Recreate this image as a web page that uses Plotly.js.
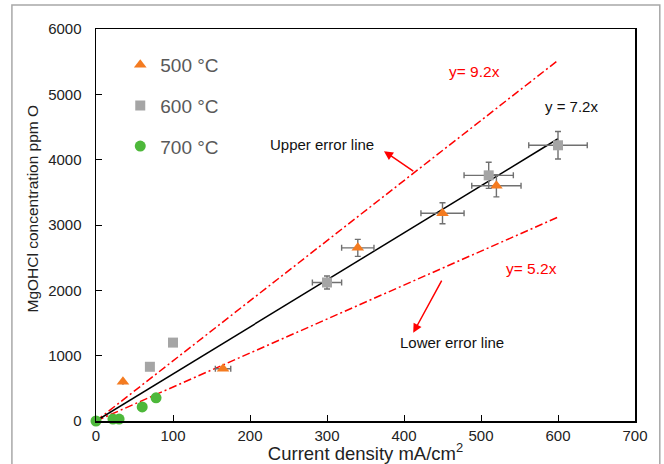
<!DOCTYPE html>
<html>
<head>
<meta charset="utf-8">
<script src="https://cdn.plot.ly/plotly-3.0.1.min.js"></script>
<style>html,body{margin:0;padding:0;background:#fff;}#chart{width:664px;height:464px;}</style>
</head>
<body>
<div id="chart"></div>
<script>
// 500 °C series
const x500 = [35, 165, 340, 450, 520];
const y500 = [600, 800, 2650, 3180, 3600];
const xErr500 = [null, 10, 21, 28, 32];
const yErr500 = [null, null, 130, 160, 170];
// 600 °C series
const x600 = [70, 100, 300, 510, 600];
const y600 = [830, 1200, 2120, 3760, 4220];
const xErr600 = [null, null, 19, 32, 38];
const yErr600 = [null, null, 100, 200, 210];
// 700 °C series
const x700 = [0, 22, 30, 60, 78];
const y700 = [0, 30, 30, 215, 355];
// fit and error lines (endpoints)
const lineX = [0, 600];
const fitY = [0, 4320];     // y = 7.2x
const upperY = [0, 5520];   // y = 9.2x
const lowerY = [0, 3120];   // y = 5.2x
const seriesNames = ['500 °C', '600 °C', '700 °C'];
const xTicks = [0, 100, 200, 300, 400, 500, 600, 700];
const yTicks = [0, 1000, 2000, 3000, 4000, 5000, 6000];

const errStyle = {color: '#707070', thickness: 1.4, width: 3};
const font = 'Liberation Sans, Arial, sans-serif';

const traces = [
  {x: lineX, y: upperY, mode: 'lines', line: {color: '#FF0000', width: 1.5, dash: '8px,3px,2px,3px'}, showlegend: false, hoverinfo: 'skip'},
  {x: lineX, y: lowerY, mode: 'lines', line: {color: '#FF0000', width: 1.5, dash: '8px,3px,2px,3px'}, showlegend: false, hoverinfo: 'skip'},
  {x: lineX, y: fitY, mode: 'lines', line: {color: '#000000', width: 1.5}, showlegend: false, hoverinfo: 'skip'},
  {x: x500, y: y500, name: seriesNames[0], legendgroup: 'a', mode: 'markers', cliponaxis: false,
   marker: {symbol: 'triangle-up', size: 11, color: '#F47B20'},
   error_x: Object.assign({type: 'data', array: xErr500}, errStyle),
   error_y: Object.assign({type: 'data', array: yErr500}, errStyle)},
  {x: x600, y: y600, name: seriesNames[1], legendgroup: 'b', mode: 'markers', cliponaxis: false,
   marker: {symbol: 'square', size: 10, color: '#A5A5A5'},
   error_x: Object.assign({type: 'data', array: xErr600}, errStyle),
   error_y: Object.assign({type: 'data', array: yErr600}, errStyle)},
  {x: x700, y: y700, name: seriesNames[2], legendgroup: 'c', mode: 'markers', cliponaxis: false,
   marker: {symbol: 'circle', size: 11, color: '#4DB83A'}}
];

const layout = {
  width: 664, height: 464,
  margin: {l: 96, r: 29, t: 29, b: 43},
  paper_bgcolor: '#fff', plot_bgcolor: '#fff',
  font: {family: font, color: '#222'},
  showlegend: true,
  legend: {x: 0.045, y: 0.957, xanchor: 'left', yanchor: 'top', bgcolor: 'rgba(0,0,0,0)',
           font: {size: 19, color: '#595959', family: font}, tracegroupgap: 13, traceorder: 'grouped',
           itemwidth: 30},
  xaxis: {range: [0, 700], tickvals: xTicks, ticks: 'inside', ticklen: 6, tickcolor: '#000',
          showline: true, linecolor: '#000', linewidth: 1.5, mirror: true, showgrid: false, zeroline: false,
          tickfont: {size: 15, color: '#222'},
          title: {text: 'Current density mA/cm<sup>2</sup>', font: {size: 18.5, color: '#222'}, standoff: 0}},
  yaxis: {range: [0, 6000], tickvals: yTicks, ticks: 'inside', ticklen: 6, tickcolor: '#000',
          showline: true, linecolor: '#000', linewidth: 1.5, mirror: true, showgrid: false, zeroline: false,
          tickfont: {size: 15, color: '#222'}, ticklabelstandoff: 10},
  shapes: [
    {type: 'rect', xref: 'paper', yref: 'paper', x0: -0.156, x1: 1.046, y0: -0.2, y1: 1.061,
     line: {color: '#A8A8A8', width: 1.5}, fillcolor: 'rgba(0,0,0,0)', layer: 'below'}
  ],
  annotations: [
    {x: -0.117, y: 0.542, xref: 'paper', yref: 'paper', xanchor: 'center', yanchor: 'middle',
     text: 'MgOHCl concentration ppm O', textangle: -90,
     showarrow: false, font: {size: 15.5, color: '#222'}},
    {x: 491, y: 5350, xref: 'x', yref: 'y', text: 'y= 9.2x', showarrow: false, font: {size: 15.5, color: '#FF0000'}},
    {x: 618, y: 4810, xref: 'x', yref: 'y', text: 'y = 7.2x', showarrow: false, font: {size: 15, color: '#111'}},
    {x: 566, y: 2330, xref: 'x', yref: 'y', text: 'y= 5.2x', showarrow: false, font: {size: 15.5, color: '#FF0000'}},
    {x: 294, y: 4230, xref: 'x', yref: 'y', text: 'Upper error line', showarrow: false, font: {size: 15, color: '#111'}},
    {x: 462, y: 1200, xref: 'x', yref: 'y', text: 'Lower error line', showarrow: false, font: {size: 15, color: '#111'}},
    {x: 374, y: 4130, ax: 414, ay: 3810, axref: 'x', ayref: 'y', xref: 'x', yref: 'y', text: '', showarrow: true,
     arrowhead: 2, arrowsize: 1.2, arrowwidth: 1.5, arrowcolor: '#FF0000'},
    {x: 412, y: 1350, ax: 450, ay: 2170, axref: 'x', ayref: 'y', xref: 'x', yref: 'y', text: '', showarrow: true,
     arrowhead: 2, arrowsize: 1.2, arrowwidth: 1.5, arrowcolor: '#FF0000'}
  ]
};

Plotly.newPlot('chart', traces, layout, {displayModeBar: false, staticPlot: true});
</script>
</body>
</html>
